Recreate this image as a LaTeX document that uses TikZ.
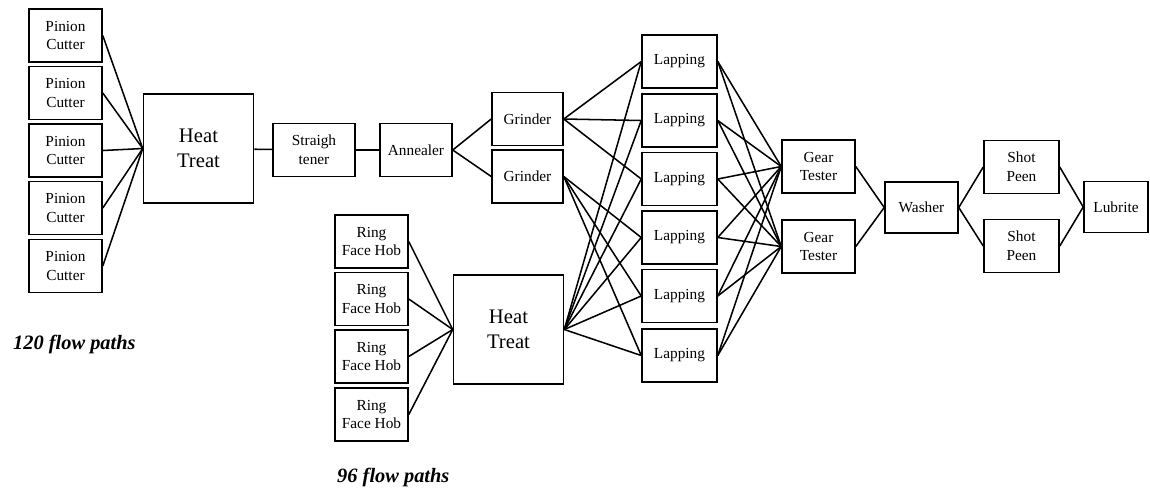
\documentclass[tikz,border=0pt]{standalone}
\usepackage{fontspec}
\setmainfont{Liberation Serif}
\newdimen\unitpx
\unitpx=0.75pt
\begin{document}
\begin{tikzpicture}[x=0.75pt,y=-0.75pt,line width=1.15pt,
    box/.style={draw,anchor=center,align=center,inner sep=0pt,
      minimum width=73\unitpx,minimum height=53\unitpx,
      font=\fontsize{11.5}{14}\selectfont},
    bigbox/.style={box,minimum width=110\unitpx,minimum height=109\unitpx,
      font=\fontsize{15.5}{19}\selectfont},
    paths/.style={anchor=base west,font=\fontsize{15.3}{18}\selectfont\bfseries\itshape}]
    \useasboundingbox (0,0) rectangle (1150,487);
    %% pinion line
    \foreach \i/\y in {1/35.5,2/93,3/150.5,4/208,5/266}
        \node[box] (pc\i) at (65.5,\y) {Pinion\\Cutter};
    \node[bigbox] (ht1) at (198.5,148.5) {Heat\\Treat};
    \node[box,minimum width=82\unitpx] (st) at (314,150) {Straigh\\tener};
    \node[box,minimum width=72\unitpx] (an) at (416,150) {Annealer};
    \node[box,minimum width=71\unitpx] (gr1) at (527.5,119) {Grinder};
    \node[box,minimum width=71\unitpx] (gr2) at (527.5,176.5) {Grinder};
    %% ring line
    \foreach \i/\y in {1/241.5,2/299,3/356.5,4/414.5}
        \node[box] (rh\i) at (371.5,\y) {Ring\\Face Hob};
    \node[bigbox] (ht2) at (508.5,329.5) {Heat\\Treat};
    %% lapping
    \foreach \i/\y in {1/61.5,2/120.5,3/179,4/237.5,5/296,6/355.5}
        \node[box,minimum width=75\unitpx] (lap\i) at (679.5,\y) {Lapping};
    %% test and finish
    \node[box] (gt1) at (818.5,166.5) {Gear\\Tester};
    \node[box] (gt2) at (818.5,246.5) {Gear\\Tester};
    \node[box,minimum height=51\unitpx] (wa) at (921.5,207.5) {Washer};
    \node[box,minimum width=75\unitpx] (sp1) at (1021.5,167) {Shot\\Peen};
    \node[box,minimum width=75\unitpx] (sp2) at (1021.5,246) {Shot\\Peen};
    \node[box,minimum width=64\unitpx,minimum height=51\unitpx] (lu) at (1116,207) {Lubrite};
    %% connections
    \foreach \i in {1,...,5}
        \draw (pc\i.east) -- (ht1.west);
    \foreach \i in {1,...,4}
        \draw (rh\i.east) -- (ht2.west);
    \draw (ht1) -- (st);
    \draw (st) -- (an);
    \draw (an.east) -- (gr1.west);
    \draw (an.east) -- (gr2.west);
    \foreach \i in {1,2,3}
        \draw (gr1.east) -- (lap\i.west);
    \foreach \i in {4,5,6}
        \draw (gr2.east) -- (lap\i.west);
    \foreach \i in {1,...,6} {
        \draw (ht2.east) -- (lap\i.west);
        \draw (lap\i.east) -- (gt1.west);
        \draw (lap\i.east) -- (gt2.west);
    }
    \draw (gt1.east) -- (wa.west);
    \draw (gt2.east) -- (wa.west);
    \draw (wa.east) -- (sp1.west);
    \draw (wa.east) -- (sp2.west);
    \draw (sp1.east) -- (lu.west);
    \draw (sp2.east) -- (lu.west);
    %% labels
    \node[paths] (pcpaths) at (8,349) {120 flow paths};
    \node[paths] (rhpaths) at (332,482) {96 flow paths};
\end{tikzpicture}
\end{document}
